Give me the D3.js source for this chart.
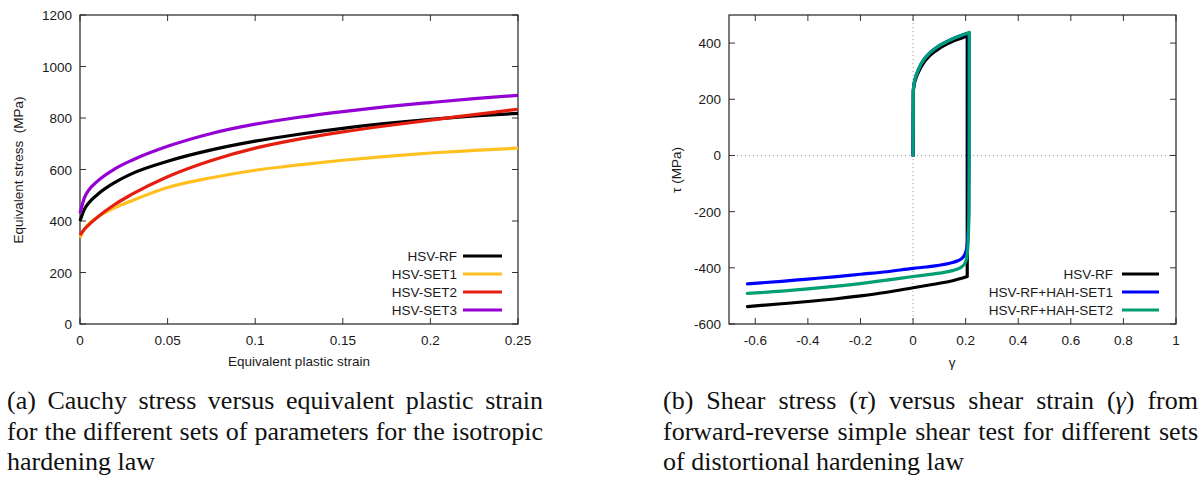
<!DOCTYPE html>
<html>
<head>
<meta charset="utf-8">
<script src="https://cdn.jsdelivr.net/npm/d3@7"></script>
<style>
  body { margin: 0; background: #fff; }
  svg { display: block; }
</style>
</head>
<body>
<svg id="fig" width="1204" height="477"></svg>
<script>
// ---- left plot: stress vs plastic strain
var strain  = [0, 0.0025, 0.005, 0.01, 0.02, 0.03, 0.05, 0.075, 0.1, 0.125, 0.15, 0.175, 0.2, 0.225, 0.25];
var hsvRF   = [400, 445, 470, 503, 550, 585, 632, 676, 710, 737, 760, 779, 795, 808, 818];
var hsvSet1 = [335, 368, 388, 415, 452, 480, 530, 568, 597, 618, 636, 651, 664, 674, 683];
var hsvSet2 = [345, 368, 385, 415, 465, 505, 572, 635, 683, 718, 746, 770, 792, 813, 834];
var hsvSet3 = [430, 490, 520, 555, 603, 637, 690, 740, 776, 803, 825, 844, 860, 875, 888];
var namesA  = ["HSV-RF", "HSV-SET1", "HSV-SET2", "HSV-SET3"];
var colorsA = ["#000000", "#ffc020", "#e51e10", "#9400d3"];
var xTicksA = [0, 0.05, 0.1, 0.15, 0.2, 0.25];
var yTicksA = [0, 200, 400, 600, 800, 1000, 1200];

// ---- right plot: shear stress vs shear strain (forward branch, then reverse branch)
var gammaFwdRF = [0, 0.0005, 0.001, 0.005, 0.01, 0.02, 0.04, 0.06, 0.08, 0.1, 0.13, 0.16, 0.19, 0.206];
var tauFwdRF   = [0, 120, 228, 255, 272, 296, 330, 352, 368, 381, 397, 410, 420, 427];
var gammaRevRF = [0.206, 0.15, 0.1, 0.05, 0, -0.1, -0.2, -0.3, -0.4, -0.5, -0.63];
var tauRevRF   = [-431, -446, -455, -463, -471, -487, -500, -511, -520, -528, -538];

var gammaFwdS1 = [0, 0.0005, 0.001, 0.005, 0.01, 0.02, 0.04, 0.06, 0.08, 0.1, 0.13, 0.16, 0.19, 0.213];
var tauFwdS1   = [0, 120, 232, 262, 280, 305, 340, 362, 378, 391, 406, 419, 430, 436];
var gammaRevS1 = [0.2125, 0.2115, 0.209, 0.205, 0.198, 0.188, 0.17, 0.15, 0.1, 0.05, 0, -0.1, -0.2, -0.3, -0.4, -0.5, -0.63];
var tauRevS1   = [0, -200, -280, -325, -350, -364, -375, -381, -391, -397, -402, -414, -423, -432, -440, -448, -457];

var gammaFwdS2 = [0, 0.0005, 0.001, 0.005, 0.01, 0.02, 0.04, 0.06, 0.08, 0.1, 0.13, 0.16, 0.19, 0.214];
var tauFwdS2   = [0, 120, 232, 262, 280, 305, 340, 362, 378, 391, 406, 419, 430, 438];
var gammaRevS2 = [0.2135, 0.2125, 0.21, 0.206, 0.2, 0.19, 0.175, 0.15, 0.1, 0.05, 0, -0.1, -0.2, -0.3, -0.4, -0.5, -0.63];
var tauRevS2   = [0, -200, -295, -350, -378, -393, -402, -410, -419, -425, -431, -444, -456, -466, -475, -483, -491];

var namesB  = ["HSV-RF", "HSV-RF+HAH-SET1", "HSV-RF+HAH-SET2"];
var colorsB = ["#000000", "#0000ff", "#009e73"];
var xTicksB = [-0.6, -0.4, -0.2, 0, 0.2, 0.4, 0.6, 0.8, 1];
var yTicksB = [-600, -400, -200, 0, 200, 400];

var captionA = ["(a) Cauchy stress versus equivalent plastic strain",
                "for the different sets of parameters for the isotropic",
                "hardening law"];
var captionB = ["(b) Shear stress (_τ_) versus shear strain (_γ_) from",
                "forward-reverse simple shear test for different sets",
                "of distortional hardening law"];

var svg = d3.select("#fig");
var font = "'Liberation Sans', Arial, sans-serif";
var ink = "#1a1a1a";

function frame(x, y, xt, yt, fmt) {
  var g = svg.append("g");
  var x0 = x.range()[0], x1 = x.range()[1], y0 = y.range()[0], y1 = y.range()[1];
  var tk = 6;
  xt.forEach(function(v) {
    g.append("line").attr("x1", x(v)).attr("x2", x(v)).attr("y1", y0).attr("y2", y0 - tk);
    g.append("line").attr("x1", x(v)).attr("x2", x(v)).attr("y1", y1).attr("y2", y1 + tk);
    g.append("text").attr("x", x(v)).attr("y", y0 + 21).attr("text-anchor", "middle").text(fmt(v));
  });
  yt.forEach(function(v) {
    g.append("line").attr("x1", x0).attr("x2", x0 + tk).attr("y1", y(v)).attr("y2", y(v));
    g.append("line").attr("x1", x1).attr("x2", x1 - tk).attr("y1", y(v)).attr("y2", y(v));
    g.append("text").attr("x", x0 - 8).attr("y", y(v) + 5).attr("text-anchor", "end").text(fmt(v));
  });
  g.selectAll("line").attr("stroke", "#333").attr("stroke-width", 1);
  g.append("rect").attr("x", x0).attr("y", y1).attr("width", x1 - x0).attr("height", y0 - y1)
    .attr("fill", "none").attr("stroke", "#222").attr("stroke-width", 1.2);
  g.selectAll("text").attr("font-family", font).attr("font-size", 13.5).attr("fill", ink);
  return g;
}

function legend(names, colors, xText, xl0, xl1, yRow0, dy) {
  names.forEach(function(n, i) {
    var yy = yRow0 + i * dy;
    svg.append("text").attr("x", xText).attr("y", yy + 5).attr("text-anchor", "end")
      .attr("font-family", font).attr("font-size", 13.5).attr("fill", ink).text(n);
    svg.append("line").attr("x1", xl0).attr("x2", xl1).attr("y1", yy).attr("y2", yy)
      .attr("stroke", colors[i]).attr("stroke-width", 3.2);
  });
}

// ---------- plot (a)
var xa = d3.scaleLinear().domain([0, 0.25]).range([80, 518]);
var ya = d3.scaleLinear().domain([0, 1200]).range([324, 15]);
frame(xa, ya, xTicksA, yTicksA, function(d) { return String(d); });

var lineA = d3.line().x(function(d) { return xa(d[0]); }).y(function(d) { return ya(d[1]); })
  .curve(d3.curveMonotoneX);
[hsvRF, hsvSet1, hsvSet2, hsvSet3].forEach(function(s, i) {
  svg.append("path").datum(strain.map(function(e, j) { return [e, s[j]]; }))
    .attr("d", lineA).attr("fill", "none").attr("stroke", colorsA[i]).attr("stroke-width", 3.2)
    .attr("stroke-linejoin", "round");
});
legend(namesA, colorsA, 457, 463, 502, 256, 18);

svg.append("text").attr("x", 299).attr("y", 366).attr("text-anchor", "middle")
  .attr("font-family", font).attr("font-size", 13.5).attr("fill", ink).text("Equivalent plastic strain");
svg.append("text").attr("transform", "translate(23,170) rotate(-90)").attr("text-anchor", "middle")
  .attr("font-family", font).attr("font-size", 13.5).attr("fill", ink)
  .style("white-space", "pre").text("Equivalent stress  (MPa)");

// ---------- plot (b)
var xb = d3.scaleLinear().domain([-0.7, 1]).range([729, 1176]);
var yb = d3.scaleLinear().domain([-600, 500]).range([324, 15]);

svg.append("line").attr("x1", xb(-0.7)).attr("x2", xb(1)).attr("y1", yb(0)).attr("y2", yb(0))
  .attr("stroke", "#999").attr("stroke-width", 1).attr("stroke-dasharray", "1,3");
svg.append("line").attr("x1", xb(0)).attr("x2", xb(0)).attr("y1", yb(-600)).attr("y2", yb(500))
  .attr("stroke", "#999").attr("stroke-width", 1).attr("stroke-dasharray", "1,3");
frame(xb, yb, xTicksB, yTicksB, function(d) { return String(d); });

var lineB = d3.line().x(function(d) { return xb(d[0]); }).y(function(d) { return yb(d[1]); })
  .curve(d3.curveMonotoneX);
function pts(gs, ts) { return gs.map(function(g, j) { return [g, ts[j]]; }); }
[[gammaFwdRF, tauFwdRF, gammaRevRF, tauRevRF],
 [gammaFwdS1, tauFwdS1, gammaRevS1, tauRevS1],
 [gammaFwdS2, tauFwdS2, gammaRevS2, tauRevS2]].forEach(function(s, i) {
  var fwd = pts(s[0], s[1]);
  var rev = pts(s[2], s[3]);
  var top = fwd[fwd.length - 1], start = rev[0];
  var d = lineB(fwd) +
    "M" + xb(top[0]) + "," + yb(top[1]) + "L" + xb(start[0]) + "," + yb(start[1]) +
    lineB(rev.slice().reverse());
  svg.append("path").attr("d", d).attr("fill", "none").attr("stroke", colorsB[i])
    .attr("stroke-width", 3.2).attr("stroke-linejoin", "round").attr("stroke-linecap", "round");
});
legend(namesB, colorsB, 1113, 1122, 1159, 274, 18);

svg.append("text").attr("x", 952).attr("y", 367).attr("text-anchor", "middle")
  .attr("font-family", font).attr("font-size", 13.5).attr("fill", ink).text("γ");
svg.append("text").attr("transform", "translate(681,170) rotate(-90)").attr("text-anchor", "middle")
  .attr("font-family", font).attr("font-size", 13.5).attr("fill", ink).text("τ (MPa)");

// ---------- captions (justified like the paper)
function caption(lines, x0, x1, yBase, lh) {
  lines.forEach(function(str, li) {
    var words = str.split(" ");
    var nodes = words.map(function(w) {
      var t = svg.append("text").attr("y", yBase + li * lh)
        .attr("font-family", "'Liberation Serif', 'Times New Roman', serif")
        .attr("font-size", 26).attr("fill", "#111");
      w.split("_").forEach(function(part, k) {
        if (part === "") return;
        t.append("tspan").attr("font-style", k % 2 ? "italic" : "normal").text(part);
      });
      return t;
    });
    var widths = nodes.map(function(t) { return t.node().getComputedTextLength(); });
    var total = d3.sum(widths);
    var last = li === lines.length - 1;
    var gap = last ? 6.5 : (x1 - x0 - total) / (words.length - 1);
    var cx = x0;
    nodes.forEach(function(t, i) { t.attr("x", cx); cx += widths[i] + gap; });
  });
}
caption(captionA, 7, 543, 409, 30.5);
caption(captionB, 663, 1198, 409, 30.5);
</script>
</body>
</html>
